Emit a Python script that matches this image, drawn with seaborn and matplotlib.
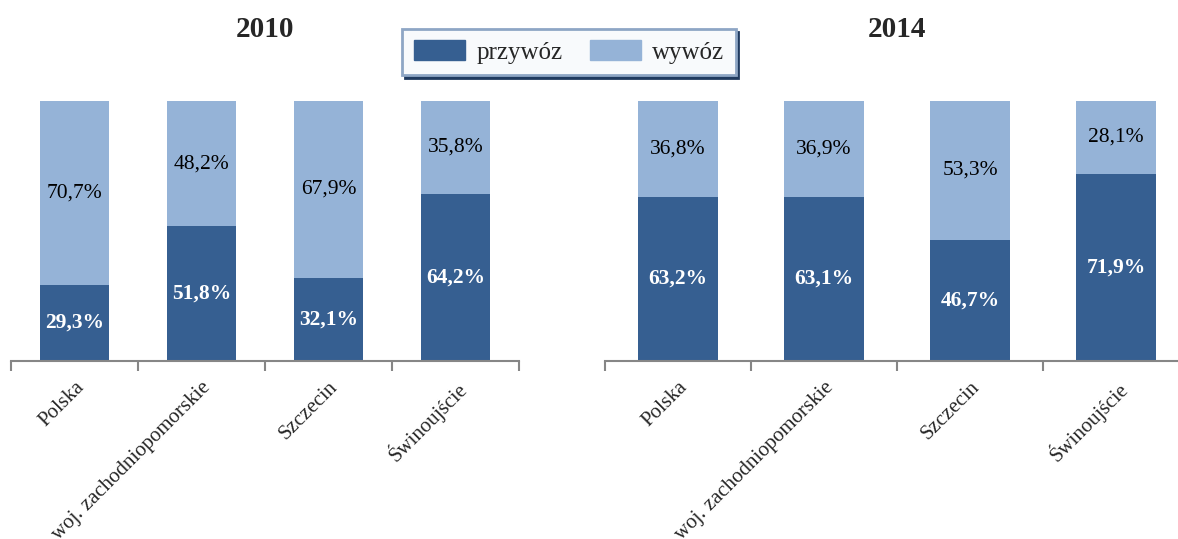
import numpy as np
import pandas as pd
import seaborn as sns
from matplotlib import pyplot as plt

regions = ['Polska', 'woj. zachodniopomorskie', 'Szczecin', 'Świnoujście']
years = ['2010', '2014']
przywoz_2010 = [29.3, 51.8, 32.1, 64.2]
wywoz_2010 = [70.7, 48.2, 67.9, 35.8]
przywoz_2014 = [63.2, 63.1, 46.7, 71.9]
wywoz_2014 = [36.8, 36.9, 53.3, 28.1]

dark = '#365F91'
light = '#95B3D7'

sns.set_style('white')
plt.rcParams['font.family'] = ['Liberation Serif', 'DejaVu Serif']

fig = plt.figure(figsize=(11.78, 5.39), dpi=100)
ax_l = fig.add_axes([11 / 1178, 1 - 361 / 539, 508 / 1178, 260 / 539])
ax_r = fig.add_axes([605 / 1178, 1 - 361 / 539, 584 / 1178, 260 / 539])


def fmt(v):
    return f'{v:.1f}%'.replace('.', ',')


def draw_year(ax, year, imp, exp):
    df = pd.DataFrame({'region': regions, 'przywóz': imp, 'wywóz': exp})
    df['total'] = df['przywóz'] + df['wywóz']
    sns.barplot(data=df, x='region', y='total', color=light, width=0.55,
                saturation=1, ax=ax, order=regions, linewidth=0)
    sns.barplot(data=df, x='region', y='przywóz', color=dark, width=0.55,
                saturation=1, ax=ax, order=regions, linewidth=0)
    for i, row in df.iterrows():
        ax.text(i, row['przywóz'] / 2, fmt(row['przywóz']), ha='center', va='center',
                color='white', fontweight='bold', fontsize=15.5)
        ax.text(i, row['przywóz'] + row['wywóz'] / 2, fmt(row['wywóz']), ha='center',
                va='center', color='black', fontsize=15.5)
    ax.set_xlim(-0.5, 3.5)
    ax.set_ylim(0, 100)
    ax.set_xlabel('')
    ax.set_ylabel('')
    ax.set_yticks([])
    for s in ['left', 'right', 'top']:
        ax.spines[s].set_visible(False)
    ax.spines['bottom'].set_color('#868686')
    ax.spines['bottom'].set_linewidth(1.5)
    ax.set_xticks(range(len(regions)))
    ax.set_xticklabels(regions, rotation=45, ha='right', rotation_mode='anchor', fontsize=15)
    ax.set_xticks(np.arange(-0.5, 4, 1), minor=True)
    ax.tick_params(axis='x', which='both', bottom=True, direction='out')
    ax.tick_params(axis='x', which='major', length=0, pad=12)
    ax.tick_params(axis='x', which='minor', length=7, width=1.5, color='#868686')
    ax.set_title(year, fontsize=21, fontweight='bold', pad=0, y=1.245)


draw_year(ax_l, years[0], przywoz_2010, wywoz_2010)
draw_year(ax_r, years[1], przywoz_2014, wywoz_2014)

handles = [plt.Rectangle((0, 0), 1, 1, color=dark), plt.Rectangle((0, 0), 1, 1, color=light)]
leg = fig.legend(handles, ['przywóz', 'wywóz'], loc='center', bbox_to_anchor=(569 / 1178, 1 - 52 / 539),
                 ncol=2, frameon=True, fancybox=False,
                 shadow={'color': '#1F3A5F', 'alpha': 1, 'ox': 2, 'oy': -2},
                 fontsize=18, handlelength=2.05, handleheight=0.8, handletextpad=0.45,
                 columnspacing=1.1, borderpad=0.45, borderaxespad=0)
leg.get_frame().set_edgecolor('#8EA6C5')
leg.get_frame().set_facecolor('#F8FAFC')
leg.get_frame().set_linewidth(2)

fig.savefig('out.png', dpi=100)
